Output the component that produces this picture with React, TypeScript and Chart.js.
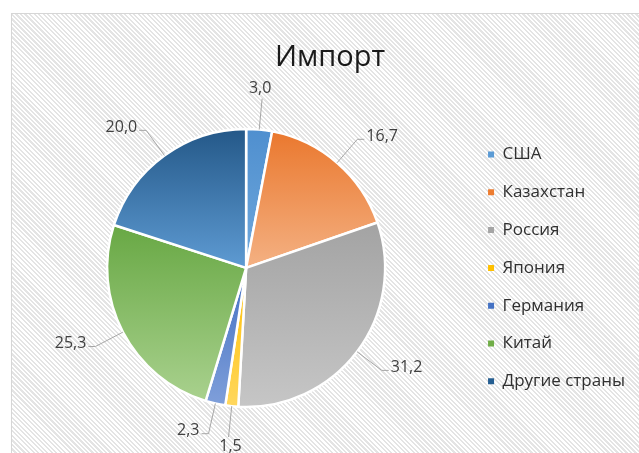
import React, { useEffect, useRef } from "react";
import { Chart, registerables } from "chart.js";

Chart.register(...registerables);

const titleText = "Импорт";
const categories = ["США", "Казахстан", "Россия", "Япония", "Германия", "Китай", "Другие страны"];
const values = [3.0, 16.7, 31.2, 1.5, 2.3, 25.3, 20.0];
const valueLabels = ["3,0", "16,7", "31,2", "1,5", "2,3", "25,3", "20,0"];
const baseColors = ["#5B9BD5", "#ED7D31", "#A5A5A5", "#FFC000", "#4472C4", "#70AD47", "#255E91"];
const topColors = ["#4F8FCF", "#EA782E", "#A3A3A3", "#FFBF00", "#4470C2", "#68A844", "#245888"];
const bottomColors = ["#6FA8DC", "#F4B183", "#C6C6C6", "#FFD75E", "#7F9FDA", "#A9D18E", "#5E9BD3"];

const FONT = "'Open Sans', 'Noto Sans', sans-serif";

const gradientPlugin = {
  id: "sliceGradient",
  beforeDatasetsDraw(chart: any) {
    const ctx = chart.ctx;
    const meta = chart.getDatasetMeta(0);
    meta.data.forEach((arc: any, i: number) => {
      const { y, startAngle, endAngle, outerRadius } = arc.getProps(
        ["x", "y", "startAngle", "endAngle", "outerRadius"],
        true
      );
      const pts: number[] = [y];
      pts.push(y + outerRadius * Math.sin(startAngle));
      pts.push(y + outerRadius * Math.sin(endAngle));
      for (let k = -4; k <= 4; k++) {
        const aa = k * Math.PI / 2;
        if (aa > startAngle && aa < endAngle) pts.push(y + outerRadius * Math.sin(aa));
      }
      const top = Math.min(...pts);
      const bot = Math.max(...pts);
      const g = ctx.createLinearGradient(0, top, 0, bot + 0.01);
      g.addColorStop(0, topColors[i]);
      g.addColorStop(1, bottomColors[i]);
      arc.options.backgroundColor = g;
    });
  },
};

const labelPlugin = {
  id: "outerLabels",
  afterDatasetsDraw(chart: any) {
    const ctx = chart.ctx;
    const meta = chart.getDatasetMeta(0);
    ctx.save();
    ctx.font = `16px ${FONT}`;
    ctx.fillStyle = "#404040";
    ctx.strokeStyle = "#A6A6A6";
    ctx.lineWidth = 1;
    meta.data.forEach((arc: any, i: number) => {
      const { x, y, startAngle, endAngle, outerRadius } = arc.getProps(
        ["x", "y", "startAngle", "endAngle", "outerRadius"],
        true
      );
      const mid = (startAngle + endAngle) / 2;
      const ux = Math.cos(mid);
      const uy = Math.sin(mid);
      const px = x + outerRadius * ux;
      const py = y + outerRadius * uy;
      const off = 31;
      const ex = x + (outerRadius + off) * ux;
      const ey = y + (outerRadius + off) * uy;
      ctx.beginPath();
      ctx.moveTo(px, py);
      ctx.lineTo(ex, ey);
      if (Math.abs(ux) < 0.2) {
        ctx.stroke();
        ctx.textAlign = "center";
        if (uy < 0) {
          ctx.textBaseline = "bottom";
          ctx.fillText(valueLabels[i], ex - 2, ey - 2);
        } else {
          ctx.textBaseline = "top";
          ctx.fillText(valueLabels[i], ex + 2, ey + 1);
        }
      } else {
        const side = ux > 0 ? 1 : -1;
        ctx.lineTo(ex + side * 7, ey);
        ctx.stroke();
        ctx.textAlign = side > 0 ? "left" : "right";
        ctx.textBaseline = "middle";
        ctx.fillText(valueLabels[i], ex + side * 9, ey - 3);
      }
    });
    ctx.restore();
  },
};

export default function App() {
  const ref = useRef<HTMLCanvasElement | null>(null);
  useEffect(() => {
    document.body.style.margin = "0";
    const canvas = ref.current!;
    const chart = new Chart(canvas, {
      type: "pie",
      data: {
        labels: categories,
        datasets: [
          {
            data: values,
            backgroundColor: baseColors,
            borderColor: "#ffffff",
            borderWidth: 2.5,
          },
        ],
      },
      options: {
        responsive: false,
        animation: false,
        radius: 139,
        layout: { padding: { left: 13, right: 17, top: 0, bottom: 0 } },
        plugins: {
          title: {
            display: true,
            text: titleText,
            color: "#1a1a1a",
            font: { family: FONT, size: 29, weight: "normal" },
            padding: { top: 26, bottom: 8 },
          },
          legend: {
            position: "right",
            align: "center",
            fullSize: false,
            labels: {
              boxWidth: 6,
              boxHeight: 6,
              padding: 20.8,
              color: "#303030",
              font: { family: FONT, size: 17 },
              generateLabels: () =>
                categories.map((t, i) => ({
                  text: t,
                  fillStyle: baseColors[i],
                  strokeStyle: baseColors[i],
                  lineWidth: 0,
                  hidden: false,
                  index: i,
                  fontColor: "#303030",
                })),
            },
          },
          tooltip: { enabled: false },
        },
      } as any,
      plugins: [gradientPlugin, labelPlugin],
    });
    return () => chart.destroy();
  }, []);

  return (
    <div
      style={{
        position: "fixed",
        left: 0,
        top: 0,
        width: 639,
        height: 453,
        overflow: "hidden",
        background: "#ffffff",
      }}
    >
      <div
        style={{
          position: "absolute",
          left: 11,
          top: 13,
          width: 660,
          height: 470,
          border: "1px solid #d6d6d6",
          background:
            "repeating-linear-gradient(45deg, #ffffff 0px, #ffffff 1.6px, #e4e4e4 1.6px, #e4e4e4 3.2px)",
        }}
      >
        <canvas
          ref={ref}
          width={640}
          height={439}
          style={{ position: "absolute", left: 0, top: 0, width: 640, height: 439 }}
        />
      </div>
    </div>
  );
}
